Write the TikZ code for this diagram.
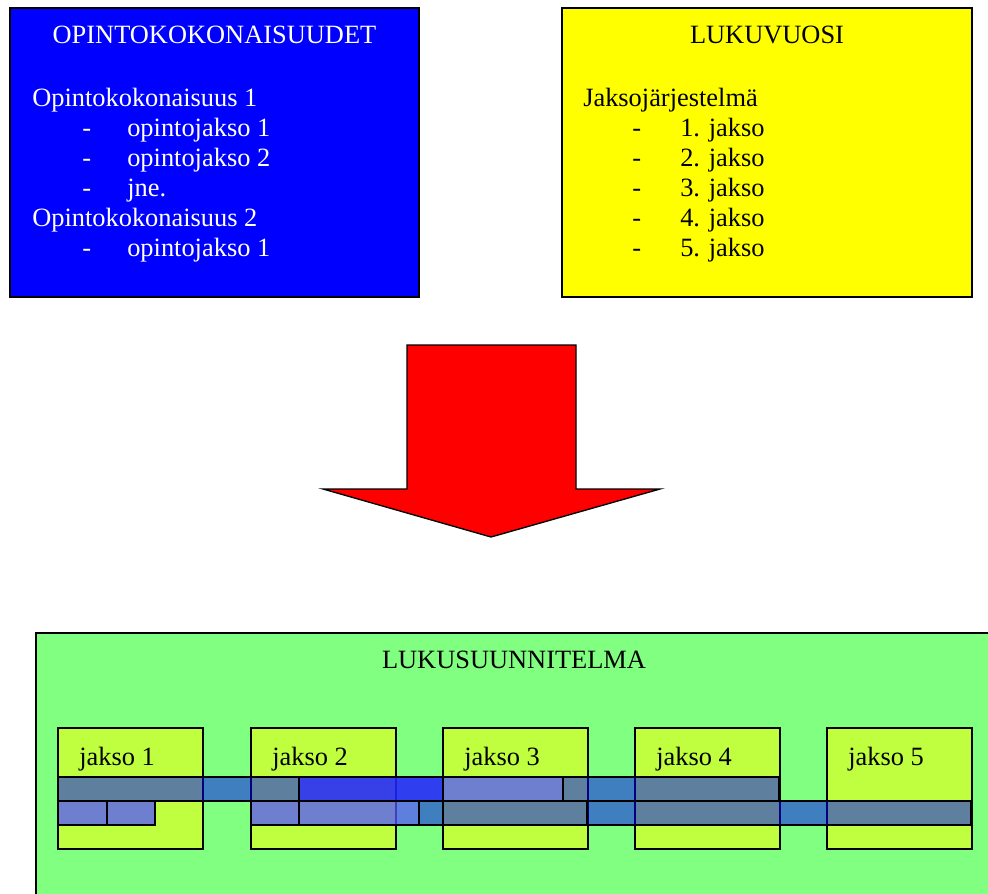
\documentclass[tikz,border=0pt]{standalone}
\usepackage{fontspec}
\setmainfont{Liberation Serif}
\usetikzlibrary{positioning}
\definecolor{planblue}{RGB}{0,0,255}
\definecolor{planyellow}{RGB}{255,255,0}
\definecolor{planred}{RGB}{255,0,0}
\definecolor{plangreen}{RGB}{128,255,128}
\definecolor{periodgreen}{RGB}{192,255,64}
\definecolor{courselight}{RGB}{85,85,255}
\tikzset{
    % Boxes
    box frame/.style={draw=black,line width=1.5pt},
    period box/.style={box frame,fill=periodgreen},
    %
    % Courses
    course/.style={draw=black,line width=1.5pt,fill=planblue,fill opacity=.5},
    light course/.style={course,fill=courselight,fill opacity=.75},
    %
    % Text
    txt/.style={anchor=base west,inner sep=0pt,font=\fontsize{19.8}{24}\selectfont},
    heading/.style={txt,anchor=base}
}

\begin{document}
\begin{tikzpicture}[x=0.75pt,y=-0.75pt]
    \useasboundingbox (0,0) rectangle (988,893);
    \clip (0,0) rectangle (988,893);
    % opintokokonaisuudet
    \draw[box frame,fill=planblue] (10,8) rectangle (419,297);
    \node[heading,text=white] (units) at (214.5,43) {OPINTOKOKONAISUUDET};
    \node[txt,text=white] (unit1) at (32,106) {Opintokokonaisuus 1};
    \foreach \y/\t [count=\n] in {136/opintojakso 1,166/opintojakso 2,196/jne.}{
        \node[txt,text=white] (udash\n) at (82,\y) {-};
        \node[txt,text=white] (ucourse\n) at (127,\y) {\t};
    }
    \node[txt,text=white] (unit2) at (32,226) {Opintokokonaisuus 2};
    \node[txt,text=white] (udash4) at (82,256) {-};
    \node[txt,text=white] (ucourse4) at (127,256) {opintojakso 1};
    % lukuvuosi
    \draw[box frame,fill=planyellow] (562,8) rectangle (972,297);
    \node[heading] (year) at (767,43) {LUKUVUOSI};
    \node[txt] (system) at (583,106) {Jaksojärjestelmä};
    \foreach \n in {1,...,5}{
        \node[txt] (ydash\n) at (632,106+30*\n) {-};
        \node[txt] (yperiod\n) at (680,106+30*\n) {\n. jakso};
    }
    % nuoli
    \draw[line width=1pt,fill=planred] (407,345) -- (576,345) -- (576,489) -- (660,489)
        -- (491,537) -- (323,489) -- (407,489) -- cycle;
    % lukusuunnitelma
    \draw[box frame,fill=plangreen] (36,633) rectangle (1000,910);
    \node[heading] (plan) at (514,668) {LUKUSUUNNITELMA};
    \foreach \x [count=\n] in {58,251,443,635,827}{
        \draw[period box] (\x,728) rectangle +(145,121);
        \node[txt] (period\n) at (\x+21,765) {jakso \n};
    }
    % rivi 1
    \draw[course] (58,777) rectangle (299,801);
    \draw[light course] (299,777) rectangle (563,801);
    \draw[course] (299,777) rectangle (443,801);
    \draw[course] (563,777) rectangle (779,801);
    % rivi 2
    \foreach \a/\b in {58/107,107/155,251/299,299/419}
        \draw[light course] (\a,801) rectangle (\b,825);
    \foreach \a/\b in {419/443,443/587,587/971}
        \draw[course] (\a,801) rectangle (\b,825);
\end{tikzpicture}
\end{document}
